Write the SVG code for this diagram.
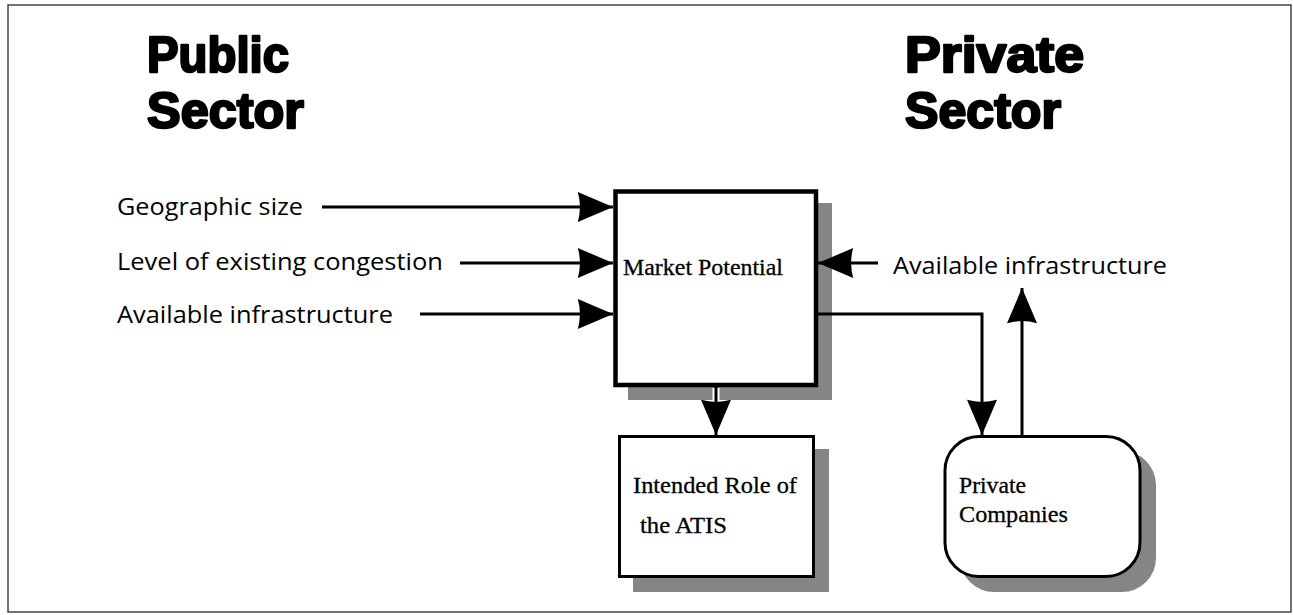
<svg xmlns="http://www.w3.org/2000/svg" width="1293" height="615" viewBox="0 0 1293 615">
  <style>
    .title { font-family: "Liberation Sans", "Open Sans", sans-serif; font-weight: 700; font-size: 50px; fill: #000; stroke: #000; stroke-width: 2.4; stroke-linejoin: round; }
    .lbl { font-family: "Open Sans", "Liberation Sans", sans-serif; font-size: 24px; fill: #000; }
    .box-txt { font-family: "Liberation Serif", "DejaVu Serif", serif; font-size: 24px; fill: #000; stroke: #000; stroke-width: 0.3; }
    .shadow { fill: #858585; }
    .box { fill: #fff; stroke: #000; }
    .conn { fill: none; stroke: #000; stroke-width: 3; }
  </style>
  <defs>
    <marker id="head" markerUnits="userSpaceOnUse" markerWidth="36" markerHeight="30" viewBox="0 0 34 29" refX="34" refY="14.5" orient="auto">
      <path d="M0,0 L34,14.5 L0,29 Q4,14.5 0,0 Z" fill="#000"/>
    </marker>
  </defs>

  <rect width="1293" height="615" fill="#fff"/>
  <!-- outer frame -->
  <rect x="8" y="5" width="1283" height="607" fill="none" stroke="#444" stroke-width="1.5"/>

  <!-- section headings -->
  <g id="public-title">
    <text class="title" x="147" y="72" textLength="142" lengthAdjust="spacingAndGlyphs">Public</text>
    <text class="title" x="147" y="128" textLength="157" lengthAdjust="spacingAndGlyphs">Sector</text>
  </g>
  <g id="private-title">
    <text class="title" x="905" y="72" textLength="179" lengthAdjust="spacingAndGlyphs">Private</text>
    <text class="title" x="905" y="128" textLength="156" lengthAdjust="spacingAndGlyphs">Sector</text>
  </g>

  <!-- input labels -->
  <g id="in-geographic">
    <text class="lbl" x="117" y="215" textLength="186" lengthAdjust="spacingAndGlyphs">Geographic size</text>
  </g>
  <g id="in-congestion">
    <text class="lbl" x="117" y="270" textLength="326" lengthAdjust="spacingAndGlyphs">Level of existing congestion</text>
  </g>
  <g id="in-infra-public">
    <text class="lbl" x="117" y="323" textLength="276" lengthAdjust="spacingAndGlyphs">Available infrastructure</text>
  </g>
  <g id="in-infra-private">
    <text class="lbl" x="893" y="274" textLength="274" lengthAdjust="spacingAndGlyphs">Available infrastructure</text>
  </g>

  <!-- Market Potential -->
  <g id="market-potential">
    <rect class="shadow" x="628" y="203" width="204" height="197"/>
    <rect class="box" x="615.5" y="191.5" width="200.5" height="193.5" stroke-width="4.5"/>
    <text class="box-txt" x="623" y="275" textLength="160" lengthAdjust="spacingAndGlyphs">Market Potential</text>
  </g>

  <!-- Intended Role of the ATIS -->
  <g id="intended-role">
    <rect class="shadow" x="633" y="449" width="196" height="143"/>
    <rect class="box" x="619.5" y="436.5" width="194" height="140" stroke-width="3"/>
    <text class="box-txt" x="633" y="493" textLength="164" lengthAdjust="spacingAndGlyphs">Intended Role of</text>
    <text class="box-txt" x="640" y="533" textLength="87" lengthAdjust="spacingAndGlyphs">the ATIS</text>
  </g>

  <!-- Private Companies -->
  <g id="private-companies">
    <rect class="shadow" x="960" y="451" width="196" height="141" rx="34" ry="34"/>
    <rect class="box" x="945" y="436.5" width="195" height="140" rx="34" ry="34" stroke-width="3"/>
    <text class="box-txt" x="959" y="493" textLength="67" lengthAdjust="spacingAndGlyphs">Private</text>
    <text class="box-txt" x="959" y="522" textLength="109" lengthAdjust="spacingAndGlyphs">Companies</text>
  </g>

  <!-- connectors -->
  <g id="connectors">
    <line class="conn" x1="322" y1="207" x2="613" y2="207" marker-end="url(#head)"/>
    <line class="conn" x1="460" y1="263" x2="613" y2="263" marker-end="url(#head)"/>
    <line class="conn" x1="420" y1="314" x2="613" y2="314" marker-end="url(#head)"/>
    <line class="conn" x1="878" y1="263" x2="818" y2="263" marker-end="url(#head)"/>
    <path class="conn" d="M818,314 H982 V435" marker-end="url(#head)"/>
    <line class="conn" x1="1022" y1="435" x2="1022" y2="288" marker-end="url(#head)"/>
    <line x1="716" y1="388" x2="716" y2="402" stroke="#fff" stroke-width="7"/>
    <line class="conn" x1="716" y1="387" x2="716" y2="435" marker-end="url(#head)"/>
  </g>
</svg>
